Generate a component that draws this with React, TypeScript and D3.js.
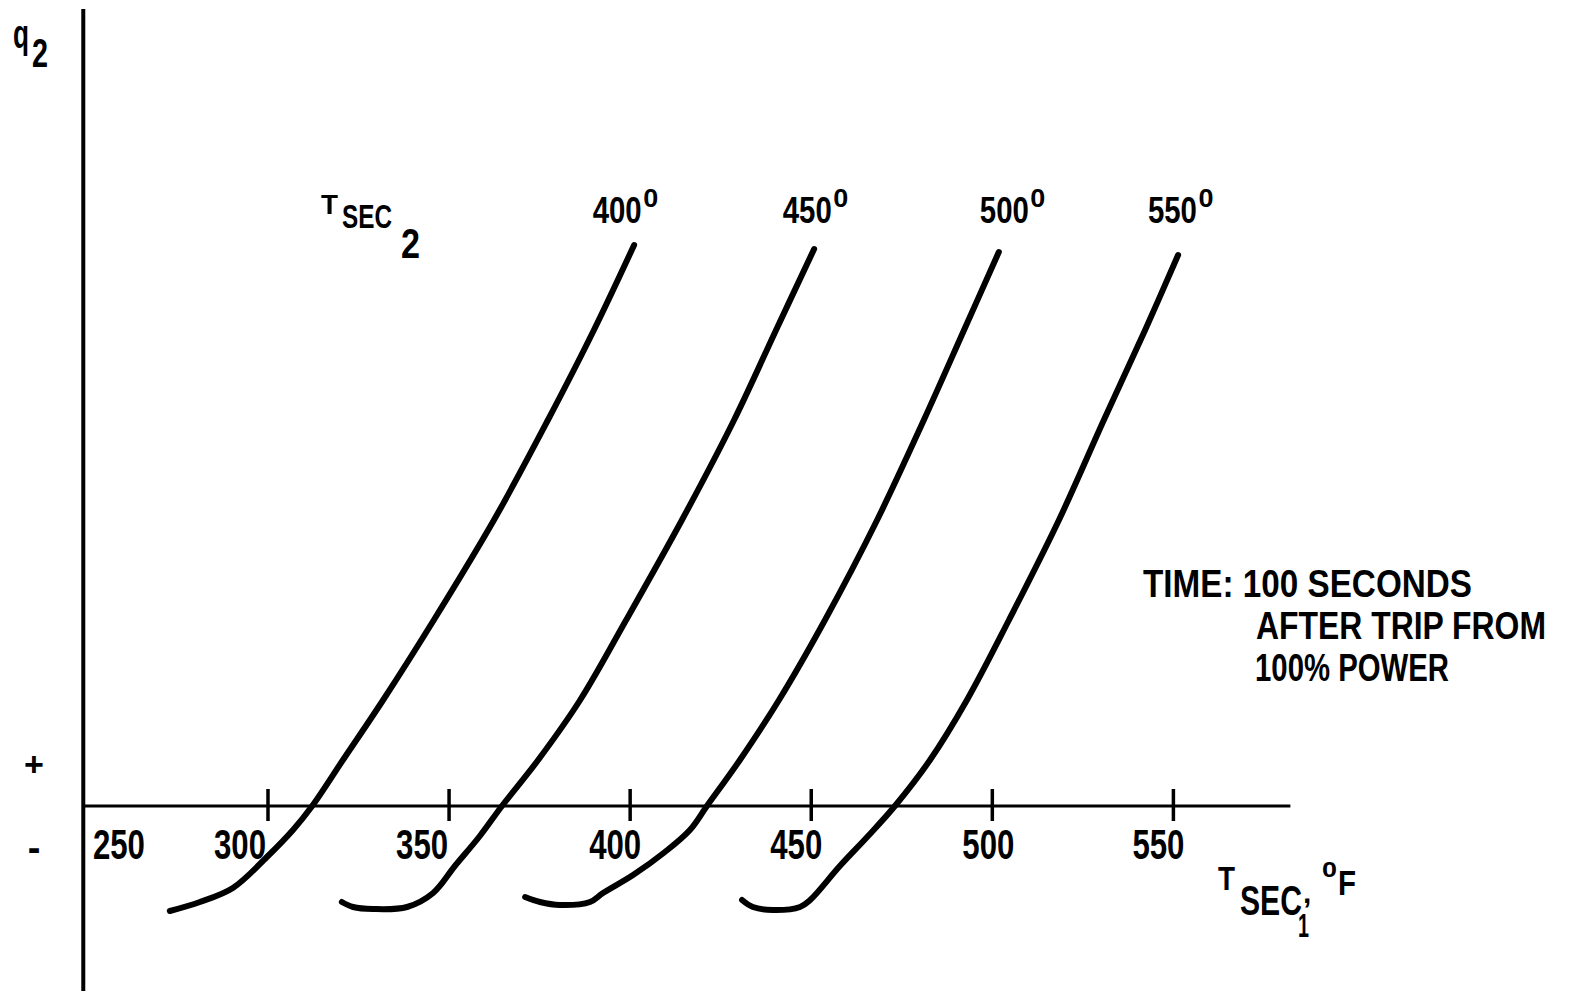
import React from "react";
import * as d3 from "d3";

const WIDTH = 1571;
const HEIGHT = 991;

// T_SEC2 parameter for each curve (°F)
const seriesTemps = [400, 450, 500, 550];

// Each curve: [T_SEC1 in °F, q2 in relative units (0 = axis)]
const curve400: [number, number][] = [
  [272.9, -1.05], [281.2, -0.96], [290.3, -0.82], [299.7, -0.51], [306.9, -0.24],
  [312.2, 0.0], [320.7, 0.46], [331.8, 1.06], [345.8, 1.86], [362.4, 2.86],
  [377.3, 3.86], [390.0, 4.76], [401.1, 5.61],
];
const curve450: [number, number][] = [
  [320.4, -0.96], [323.5, -1.01], [329.0, -1.03], [338.4, -1.01], [345.6, -0.87],
  [351.6, -0.6], [358.5, -0.3], [364.6, 0.0], [374.6, 0.46], [386.2, 1.06],
  [398.9, 1.86], [414.3, 2.86], [428.7, 3.86], [440.3, 4.76], [450.8, 5.57],
];
const curve500: [number, number][] = [
  [371.0, -0.91], [375.1, -0.96], [380.6, -0.99], [388.9, -0.96], [392.5, -0.87],
  [400.8, -0.69], [409.6, -0.46], [416.5, -0.24], [421.2, 0.0], [430.3, 0.46],
  [441.1, 1.06], [453.8, 1.86], [468.2, 2.86], [481.1, 3.86], [492.2, 4.76],
  [501.8, 5.54],
];
const curve550: [number, number][] = [
  [430.9, -0.94], [433.9, -1.01], [439.4, -1.04], [446.9, -1.01], [449.7, -0.94],
  [457.9, -0.6], [465.7, -0.3], [473.1, 0.0], [482.8, 0.46], [493.0, 1.06],
  [504.6, 1.86], [518.4, 2.86], [530.8, 3.86], [542.2, 4.76], [551.3, 5.51],
];
const curves = [curve400, curve450, curve500, curve550];

// x-axis ticks (°F); 250 sits on the q2 axis and gets a label only
const tickValues = [250, 300, 350, 400, 450, 500, 550];
const tickLabels = ["250", "300", "350", "400", "450", "500", "550"];

const noteLines = ["TIME:  100 SECONDS", "AFTER TRIP FROM", "100% POWER"];

// Hand lettering offsets: label centre minus the x of its value
const tickLabelShift: Record<number, number> = {
  250: 32, 300: -28, 350: -27, 400: -15, 450: -15, 500: -4, 550: -15,
};
const curveLabelShift: Record<number, number> = {
  400: -13, 450: -4, 500: 12, 550: -1,
};

const FONT = "'Liberation Sans Narrow', 'Liberation Sans', Arial, sans-serif";

export default function App() {
  const x = d3.scaleLinear().domain([250, 550]).range([86.9, 1173.4]);
  const y = d3.scaleLinear().domain([0, 5]).range([806, 306]);

  const xAxisStart = x(249);
  const xAxisEnd = x(582.3);
  const qTop = y.invert(9);
  const qBottom = y.invert(HEIGHT);

  const line = d3
    .line<[number, number]>()
    .x((d) => x(d[0]))
    .y((d) => y(d[1]))
    .curve(d3.curveCatmullRom.alpha(0.5));

  const textProps = {
    fontFamily: FONT,
    fontWeight: "bold" as const,
    fill: "#000",
    lengthAdjust: "spacingAndGlyphs" as const,
  };

  return (
    <svg
      width={WIDTH}
      height={HEIGHT}
      style={{ position: "absolute", left: 0, top: 0, background: "#fff" }}
    >
      <rect x={0} y={0} width={WIDTH} height={HEIGHT} fill="#fff" />

      {/* q2 axis */}
      <line
        x1={xAxisStart}
        x2={xAxisStart}
        y1={y(qTop)}
        y2={y(qBottom)}
        stroke="#000"
        strokeWidth={4}
      />
      {/* T_SEC1 axis at q2 = 0 */}
      <line
        x1={xAxisStart}
        x2={xAxisEnd}
        y1={y(0)}
        y2={y(0)}
        stroke="#000"
        strokeWidth={3}
      />
      {tickValues.slice(1).map((v) => (
        <line
          key={`t${v}`}
          x1={x(v)}
          x2={x(v)}
          y1={y(0) - 17}
          y2={y(0) + 15}
          stroke="#000"
          strokeWidth={3.5}
        />
      ))}
      {tickValues.map((v, i) => (
        <text
          key={`l${v}`}
          {...textProps}
          x={x(v) + tickLabelShift[v]}
          y={859}
          fontSize={42}
          textAnchor="middle"
          textLength={52}
        >
          {tickLabels[i]}
        </text>
      ))}

      {/* curves */}
      {curves.map((c, i) => (
        <path
          key={`c${i}`}
          d={line(c) ?? ""}
          fill="none"
          stroke="#000"
          strokeWidth={6}
          strokeLinecap="round"
          strokeLinejoin="round"
        />
      ))}

      {/* curve labels */}
      {seriesTemps.map((t) => {
        const cx = x(t) + curveLabelShift[t];
        return (
          <g key={`cl${t}`}>
            <text
              {...textProps}
              x={cx}
              y={223}
              fontSize={36}
              textAnchor="middle"
              textLength={49}
            >
              {String(t)}
            </text>
            <text
              {...textProps}
              x={cx + 26}
              y={207}
              fontSize={25}
              textLength={15}
            >
              0
            </text>
          </g>
        );
      })}

      {/* q2 label */}
      <text {...textProps} x={13} y={48} fontSize={40} textLength={16}>
        q
      </text>
      <text {...textProps} x={32} y={67} fontSize={40} textLength={16}>
        2
      </text>
      <text {...textProps} x={34} y={776} fontSize={34} textAnchor="middle">
        +
      </text>
      <text {...textProps} x={34} y={861} fontSize={38} textAnchor="middle">
        -
      </text>

      {/* T_SEC2 legend title */}
      <text {...textProps} x={321} y={214} fontSize={28} textLength={17}>
        T
      </text>
      <text {...textProps} x={342} y={228} fontSize={34} textLength={50}>
        SEC
      </text>
      <text {...textProps} x={401} y={258} fontSize={42} textLength={19}>
        2
      </text>

      {/* x-axis title */}
      <text {...textProps} x={1218} y={890} fontSize={34} textLength={17}>
        T
      </text>
      <text {...textProps} x={1240} y={915} fontSize={42} textLength={62}>
        SEC
      </text>
      <text {...textProps} x={1303} y={903} fontSize={30}>
        ,
      </text>
      <text {...textProps} x={1298} y={937} fontSize={34} textLength={11}>
        1
      </text>
      <text {...textProps} x={1322} y={877} fontSize={22} textLength={15}>
        0
      </text>
      <text {...textProps} x={1338} y={895} fontSize={35} textLength={18}>
        F
      </text>

      {/* annotation */}
      <text {...textProps} x={1143} y={597} fontSize={38} textLength={329}>
        {noteLines[0]}
      </text>
      <text {...textProps} x={1256} y={639} fontSize={38} textLength={290}>
        {noteLines[1]}
      </text>
      <text {...textProps} x={1255} y={681} fontSize={38} textLength={194}>
        {noteLines[2]}
      </text>
    </svg>
  );
}
